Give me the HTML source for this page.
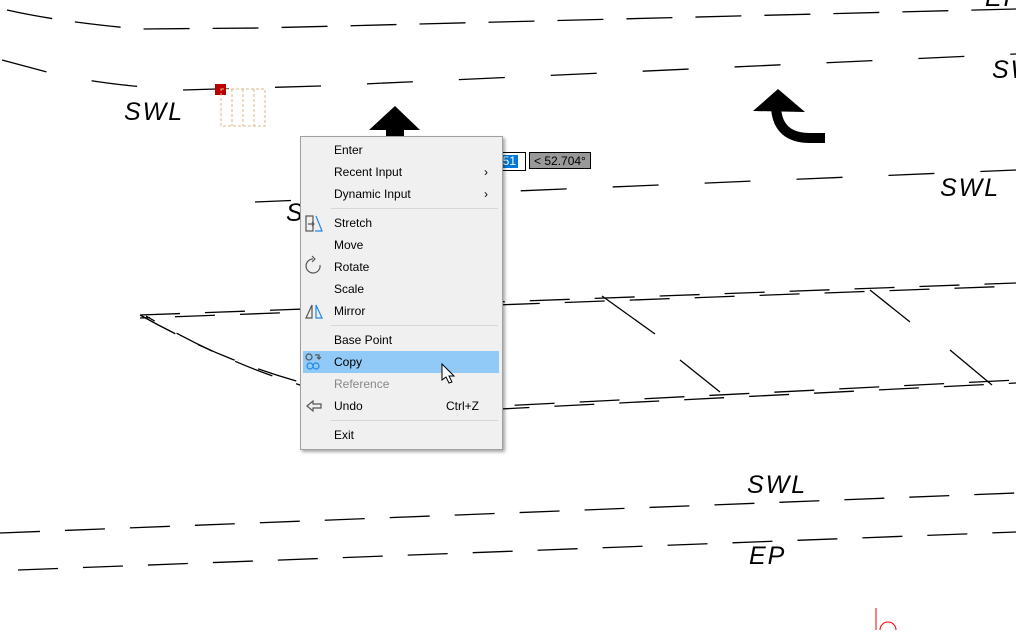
<!DOCTYPE html><html><head><style>
body{margin:0;width:1016px;height:634px;overflow:hidden;background:#fff;position:relative;font-family:"Liberation Sans",sans-serif}
svg{position:absolute;left:0;top:0}
.lbl{position:absolute;font-style:italic;font-size:25px;letter-spacing:2px;color:#000;font-family:"Liberation Sans",sans-serif}
.menu{position:absolute;left:300px;top:136px;width:201px;height:312px;background:#f0f0f0;border:1px solid #a0a0a0;box-shadow:2px 2px 3px rgba(0,0,0,.35);font-size:12px;color:#000}
.it{position:absolute;left:33px;height:20px;line-height:20px}
.sep{position:absolute;left:30px;right:4px;height:1px;background:#d7d7d7}
</style></head><body>
<svg width="1016" height="634" fill="none" stroke="#000" stroke-width="1.3">
<path d="M7,10 Q 60,22 140,29 L 260,28 L1016,9" stroke-dasharray="46,23"/>
<path d="M2,60 L47,72 Q 100,85 183,90 L 320,86 L 1016,54" stroke-dasharray="46,46"/>
<path d="M255,202 L1016,170" stroke-dasharray="46,46" stroke-dashoffset="10"/>
<g stroke-dasharray="40,25">
<path d="M140,315 L1016,283"/>
<path d="M140,318 L1016,286" stroke-dashoffset="30"/>
<path d="M140,315 Q 220,360 300,382 L500,406 L1016,380"/>
<path d="M146,316 Q 224,362 300,385 L500,409 L1016,383" stroke-dashoffset="30"/>
<path d="M0,533 L1016,493"/>
<path d="M18,570 L1016,532"/>
</g>
<path d="M602,296 L655,334 M680,360 L720,392 M870,290 L910,322 M950,350 L992,385"/>
<polygon points="395,106 420,130 404,130 404,136 386,136 386,130 369,130" fill="#000" stroke="none"/>
<path d="M776,108 Q 778,138 810,138 L825,138" stroke-width="10"/>
<polygon points="753,111 778,89 805,112" fill="#000" stroke="none"/>
<rect x="215" y="84" width="11" height="11" fill="#b00" stroke="none"/>
<g stroke="#d8b88a" stroke-dasharray="3,2" stroke-width="1"><rect x="221" y="89" width="44" height="37"/><path d="M232,89V126M243,89V126M254,89V126"/></g>
<path d="M876,608 L876,630 M880,630 a8,8 0 1 1 16,0" stroke="#e00" stroke-width="1"/>
</svg>
<div class="lbl" style="left:124px;top:98px">SWL</div>
<div class="lbl" style="left:940px;top:174px">SWL</div>
<div class="lbl" style="left:747px;top:471px">SWL</div>
<div class="lbl" style="left:749px;top:542px">EP</div>
<div class="lbl" style="left:992px;top:56px">SW</div>
<div class="lbl" style="left:985px;top:-16px">EP</div>
<div class="lbl" style="left:286px;top:199px">S</div>
<div style="position:absolute;left:494px;top:152px;width:30px;height:17px;border:1px solid #000;background:#fff"><div style="position:absolute;left:1px;top:2px;width:22px;height:13px;background:#0078d7;color:#fff;font-size:12px;line-height:13px">051</div></div>
<div style="position:absolute;left:529px;top:152px;width:62px;height:17px;border:1px solid #000;background:#999;font-size:12px;line-height:17px;padding-left:4px;box-sizing:border-box">&lt; 52.704°</div>
<div class="menu">
<div class="it" style="top:3px">Enter</div>
<div class="it" style="top:25px">Recent Input</div><div style="position:absolute;left:183px;top:25px;line-height:20px">›</div>
<div class="it" style="top:47px">Dynamic Input</div><div style="position:absolute;left:183px;top:47px;line-height:20px">›</div>
<div class="sep" style="top:71px"></div>
<div class="it" style="top:76px">Stretch</div>
<div class="it" style="top:98px">Move</div>
<div class="it" style="top:120px">Rotate</div>
<div class="it" style="top:142px">Scale</div>
<div class="it" style="top:164px">Mirror</div>
<div class="sep" style="top:188px"></div>
<div class="it" style="top:193px">Base Point</div>
<div style="position:absolute;left:2px;top:214px;width:196px;height:22px;background:#91c9f7"></div>
<div class="it" style="top:215px">Copy</div>
<div class="it" style="top:237px;color:#888">Reference</div>
<div class="it" style="top:259px">Undo</div><div style="position:absolute;left:145px;top:259px;line-height:20px">Ctrl+Z</div>
<div class="sep" style="top:283px"></div>
<div class="it" style="top:288px">Exit</div>
<svg width="30" height="312" style="left:0;top:0" stroke="#555" stroke-width="1.2" fill="none">
<rect x="5" y="79" width="7" height="15"/><path d="M7,87 h6 M11,85 l2,2 -2,2"/><path d="M15,79 L21,94 L14,94" stroke="#1e88e5"/>
<path d="M19,128 A7,7 0 1 1 12,122"/><path d="M11,119 l3,3 -3,3"/>
<path d="M11,168 L5,181 L11,181Z" /><path d="M15,168 L21,181 L15,181Z" stroke="#1e88e5"/>
<circle cx="8" cy="220" r="3"/><path d="M14,218 h4 v4 M16,220 l2,2 2,-2"/><circle cx="9" cy="229" r="3" stroke="#1e88e5"/><circle cx="15" cy="229" r="3" stroke="#1e88e5"/>
<path d="M6,269 l6,-5 v3 h8 v4 h-8 v3z"/>
</svg>
</div>
<svg width="1016" height="634" style="pointer-events:none"><path d="M442,364 L442,380 L446,377 L449,383 L452,382 L449,376 L454,376Z" fill="#fff" stroke="#000"/></svg>
</body></html>
